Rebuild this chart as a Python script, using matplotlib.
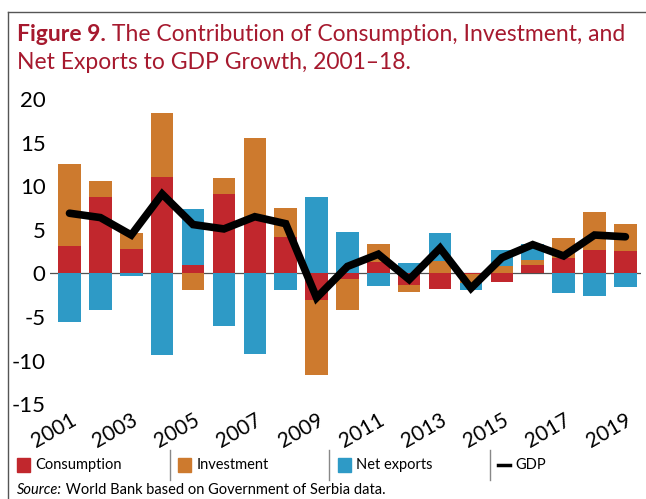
import numpy as np
import matplotlib.pyplot as plt
from matplotlib.lines import Line2D
from matplotlib.patches import Rectangle

# DATA (percentage-point contributions)
years = list(range(2001, 2020))
consumption = [3.1, 8.8, 2.8, 11.1, 1.0, 9.1, 6.3, 4.2, -3.0, -0.6, 1.3, -1.3, -1.8, -0.1, -1.0, 1.0, 1.8, 2.7, 2.6]
investment = [9.4, 1.8, 1.8, 7.3, -1.9, 1.8, 9.2, 3.3, -8.7, -3.6, 2.1, -0.8, 1.4, -1.0, 0.8, 0.5, 2.3, 4.3, 3.1]
net_exports = [-5.6, -4.2, -0.3, -9.4, 6.4, -6.0, -9.2, -1.9, 8.8, 4.8, -1.5, 1.2, 3.2, -0.8, 1.9, 1.9, -2.2, -2.6, -1.6]
gdp = [6.9, 6.4, 4.4, 9.1, 5.6, 5.1, 6.5, 5.7, -2.8, 0.8, 2.2, -0.7, 2.9, -1.7, 1.8, 3.3, 2.0, 4.4, 4.2]
tick_years = [str(y) for y in range(2001, 2020, 2)]

RED = "#c1272d"
ORANGE = "#cd7a2e"
BLUE = "#2e9ac6"
TITLE_RED = "#a6192e"

plt.rcParams["font.family"] = ["Lato", "DejaVu Sans"]

fig = plt.figure(figsize=(6.46, 4.99), dpi=100)
ax = fig.add_axes([0.077, 0.19, 0.915, 0.6116])

x = np.arange(len(years))
cons = np.array(consumption)
inv = np.array(investment)
nx = np.array(net_exports)

# stack positives upward and negatives downward, series order: cons, inv, nx
pos_base = np.zeros(len(x))
neg_base = np.zeros(len(x))
for vals, col in [(cons, RED), (inv, ORANGE), (nx, BLUE)]:
    base = np.where(vals >= 0, pos_base, neg_base)
    ax.bar(x, vals, bottom=base, width=0.73, color=col, zorder=2)
    pos_base = pos_base + np.where(vals >= 0, vals, 0)
    neg_base = neg_base + np.where(vals < 0, vals, 0)

ax.axhline(0, color="#505050", lw=0.9, zorder=1)
ax.plot(x, gdp, color="black", lw=5.5, solid_joinstyle="miter",
        solid_capstyle="round", zorder=3)

ax.set_xlim(-0.64, 18.5)
ax.set_ylim(-15, 20)
ax.set_yticks([-15, -10, -5, 0, 5, 10, 15, 20])
ax.set_yticklabels(["-15", "-10", "-5", "0", "5", "10", "15", "20"], fontsize=16)
ax.set_xticks(x[::2])
ax.set_xticklabels(tick_years, fontsize=15, rotation=30, ha="right",
                   va="top", rotation_mode="anchor")
ax.tick_params(length=0, pad=3)
ax.tick_params(axis="x", pad=4)
for s in ax.spines.values():
    s.set_visible(False)

# frame lines
fig.add_artist(Line2D([0.0124, 1.0], [0.976, 0.976], color="#555555", lw=1))
fig.add_artist(Line2D([0.0124, 0.0124], [0.0, 0.976], color="#555555", lw=1))

# title
t1 = fig.text(0.026, 0.918, "Figure 9.", fontsize=16.5, weight="bold",
              color=TITLE_RED, va="baseline")
plt.annotate(" The Contribution of Consumption, Investment, and",
             xy=(1, 0), xycoords=t1, va="bottom", ha="left",
             fontsize=16.5, color=TITLE_RED, annotation_clip=False)
fig.text(0.026, 0.862, "Net Exports to GDP Growth, 2001\u201318.",
         fontsize=16.5, color=TITLE_RED, va="baseline")

# legend
ly = 0.068
items = [(0.026, "Consumption", RED), (0.276, "Investment", ORANGE), (0.523, "Net exports", BLUE)]
for lx, label, col in items:
    fig.add_artist(Rectangle((lx, ly - 0.014), 0.02, 0.028, color=col, transform=fig.transFigure))
    fig.text(lx + 0.028, ly, label, fontsize=10.5, va="center")
for sx in [0.263, 0.51, 0.759]:
    fig.add_artist(Line2D([sx, sx], [ly - 0.03, ly + 0.03], color="#888888", lw=1))
fig.add_artist(Line2D([0.771, 0.79], [ly, ly], color="black", lw=2.5))
fig.text(0.798, ly, "GDP", fontsize=10.5, va="center")

src = fig.text(0.026, 0.018, "Source:", fontsize=10.5, style="italic", va="center")
plt.annotate(" World Bank based on Government of Serbia data.", xy=(1, 0.5),
             xycoords=src, va="center", ha="left", fontsize=10.5, annotation_clip=False)

fig.savefig("out.png", dpi=100)
